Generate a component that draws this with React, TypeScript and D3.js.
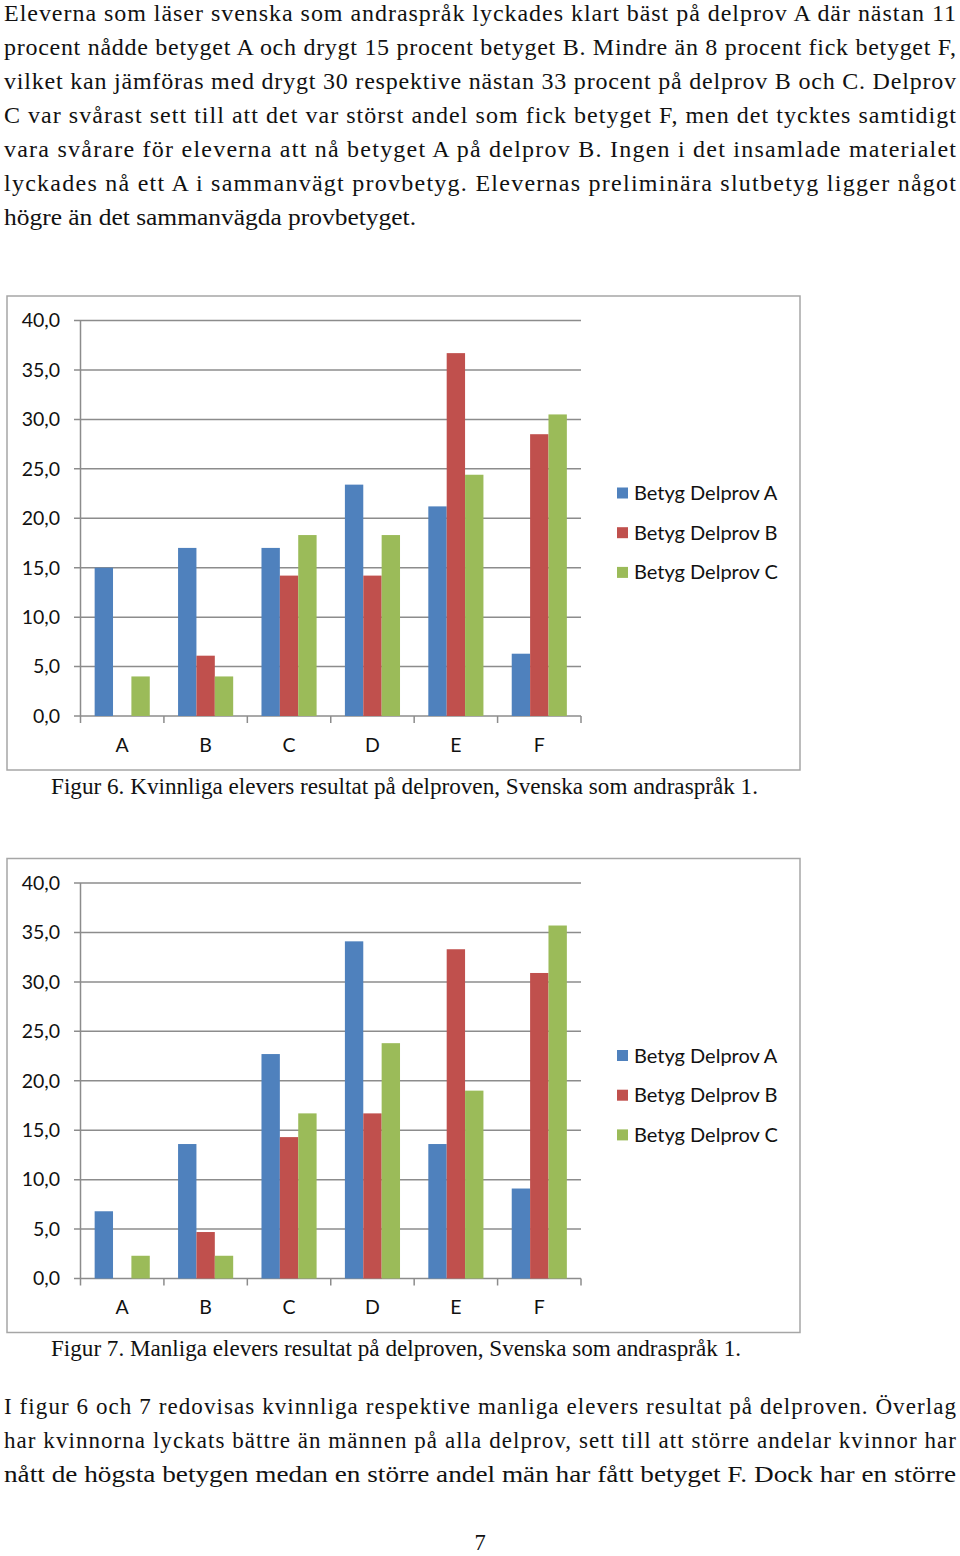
import React from "react";
import * as d3 from "d3";

const categories = ["A", "B", "C", "D", "E", "F"];
const seriesNames = ["Betyg Delprov A", "Betyg Delprov B", "Betyg Delprov C"];
const colors = ["#4F81BD", "#C0504D", "#9BBB59"];
const yTicks = [0, 5, 10, 15, 20, 25, 30, 35, 40];

// Figur 6 – kvinnliga elever
const fig6DelprovA = [15.0, 17.0, 17.0, 23.4, 21.2, 6.3];
const fig6DelprovB = [0, 6.1, 14.2, 14.2, 36.7, 28.5];
const fig6DelprovC = [4.0, 4.0, 18.3, 18.3, 24.4, 30.5];

// Figur 7 – manliga elever
const fig7DelprovA = [6.8, 13.6, 22.7, 34.1, 13.6, 9.1];
const fig7DelprovB = [0, 4.7, 14.3, 16.7, 33.3, 30.9];
const fig7DelprovC = [2.3, 2.3, 16.7, 23.8, 19.0, 35.7];

const topLines = [
  "Eleverna som läser svenska som andraspråk lyckades klart bäst på delprov A där nästan 11",
  "procent nådde betyget A och drygt 15 procent betyget B. Mindre än 8 procent fick betyget F,",
  "vilket kan jämföras med drygt 30 respektive nästan 33 procent på delprov B och C. Delprov",
  "C var svårast sett till att det var störst andel som fick betyget F, men det tycktes samtidigt",
  "vara svårare för eleverna att nå betyget A på delprov B. Ingen i det insamlade materialet",
  "lyckades nå ett A i sammanvägt provbetyg. Elevernas preliminära slutbetyg ligger något",
  "högre än det sammanvägda provbetyget.",
];
const bottomLines = [
  "I figur 6 och 7 redovisas kvinnliga respektive manliga elevers resultat på delproven. Överlag",
  "har kvinnorna lyckats bättre än männen på alla delprov, sett till att större andelar kvinnor har",
  "nått de högsta betygen medan en större andel män har fått betyget F. Dock har en större",
];

const SERIF = "'Liberation Serif', 'DejaVu Serif', serif";
const SANS = "Lato, 'Open Sans', 'Liberation Sans', sans-serif";

function Paragraph({
  lines,
  y0,
  lastWidth,
  fontSize,
}: {
  lines: string[];
  y0: number;
  lastWidth: number;
  fontSize: number;
}) {
  return (
    <g>
      {lines.map((t, i) => {
        const isLast = i === lines.length - 1;
        return (
          <text
            key={i}
            x={4}
            y={y0 + i * 34}
            fontFamily={SERIF}
            fontSize={fontSize}
            fill="#111"
            textLength={isLast ? lastWidth : 952}
            lengthAdjust={isLast ? "spacingAndGlyphs" : "spacing"}
          >
            {t}
          </text>
        );
      })}
    </g>
  );
}

function Chart({
  top,
  series,
  caption,
  captionWidth,
}: {
  top: number;
  series: number[][];
  caption: string;
  captionWidth: number;
}) {
  const y = d3.scaleLinear().domain([0, 40]).range([top + 420, top + 24.5]);
  const x = d3.scaleBand<string>().domain(categories).range([80.5, 581]).padding(0);
  const xs = d3
    .scaleBand<string>()
    .domain(seriesNames)
    .range([0, x.bandwidth()])
    .paddingInner(0)
    .paddingOuter(0.77);
  const gridColor = "#8c8c8c";
  const y0 = y(0);
  return (
    <g>
      <rect x={7} y={top} width={793} height={474} fill="#fff" stroke="#a6a6a6" strokeWidth={1.5} />
      {yTicks.map((t) => (
        <g key={t}>
          <line x1={74} x2={581} y1={y(t)} y2={y(t)} stroke={gridColor} strokeWidth={1.5} />
          <text x={60} y={y(t)} dy="0.35em" textAnchor="end" fontFamily={SANS} fontSize={19.5} fill="#111">
            {t.toFixed(1).replace(".", ",")}
          </text>
        </g>
      ))}
      <line x1={80.5} x2={80.5} y1={y(40)} y2={y0 + 7} stroke={gridColor} strokeWidth={1.5} />
      {categories.map((c) => (
        <line
          key={"tk" + c}
          x1={(x(c) as number) + x.bandwidth()}
          x2={(x(c) as number) + x.bandwidth()}
          y1={y0}
          y2={y0 + 7}
          stroke={gridColor}
          strokeWidth={1.5}
        />
      ))}
      {categories.map((c, ci) =>
        seriesNames.map((s, si) => {
          const v = series[si][ci];
          if (!v) return null;
          return (
            <rect
              key={c + s}
              x={(x(c) as number) + (xs(s) as number)}
              y={y(v)}
              width={xs.bandwidth()}
              height={y0 - y(v)}
              fill={colors[si]}
            />
          );
        })
      )}
      {categories.map((c) => (
        <text
          key={"lb" + c}
          x={(x(c) as number) + x.bandwidth() / 2}
          y={y0 + 29}
          dy="0.35em"
          textAnchor="middle"
          fontFamily={SANS}
          fontSize={19.5}
          fill="#111"
        >
          {c}
        </text>
      ))}
      {seriesNames.map((s, i) => (
        <g key={"lg" + s}>
          <rect x={617} y={top + 197 + i * 39.7 - 5.5} width={11} height={11} fill={colors[i]} />
          <text x={634} y={top + 197 + i * 39.7} dy="0.35em" fontFamily={SANS} fontSize={20} fill="#111">
            {s}
          </text>
        </g>
      ))}
      <text
        x={51}
        y={top + 490}
        dy="0.35em"
        fontFamily={SERIF}
        fontSize={22.5}
        fill="#111"
        textLength={captionWidth}
        lengthAdjust="spacingAndGlyphs"
      >
        {caption}
      </text>
    </g>
  );
}

export default function App() {
  return (
    <svg
      width={960}
      height={1556}
      style={{ position: "absolute", left: 0, top: 0, background: "#fff" }}
    >
      <rect width={960} height={1556} fill="#fff" />
      <Paragraph lines={topLines} y0={21} lastWidth={412} fontSize={24} />
      <Chart
        top={296}
        series={[fig6DelprovA, fig6DelprovB, fig6DelprovC]}
        caption="Figur 6. Kvinnliga elevers resultat på delproven, Svenska som andraspråk 1."
        captionWidth={707}
      />
      <Chart
        top={858.5}
        series={[fig7DelprovA, fig7DelprovB, fig7DelprovC]}
        caption="Figur 7. Manliga elevers resultat på delproven, Svenska som andraspråk 1."
        captionWidth={690}
      />
      <Paragraph lines={bottomLines} y0={1414} lastWidth={952} fontSize={23} />
      <text x={480} y={1550} textAnchor="middle" fontFamily={SERIF} fontSize={22.5} fill="#111">
        7
      </text>
    </svg>
  );
}
